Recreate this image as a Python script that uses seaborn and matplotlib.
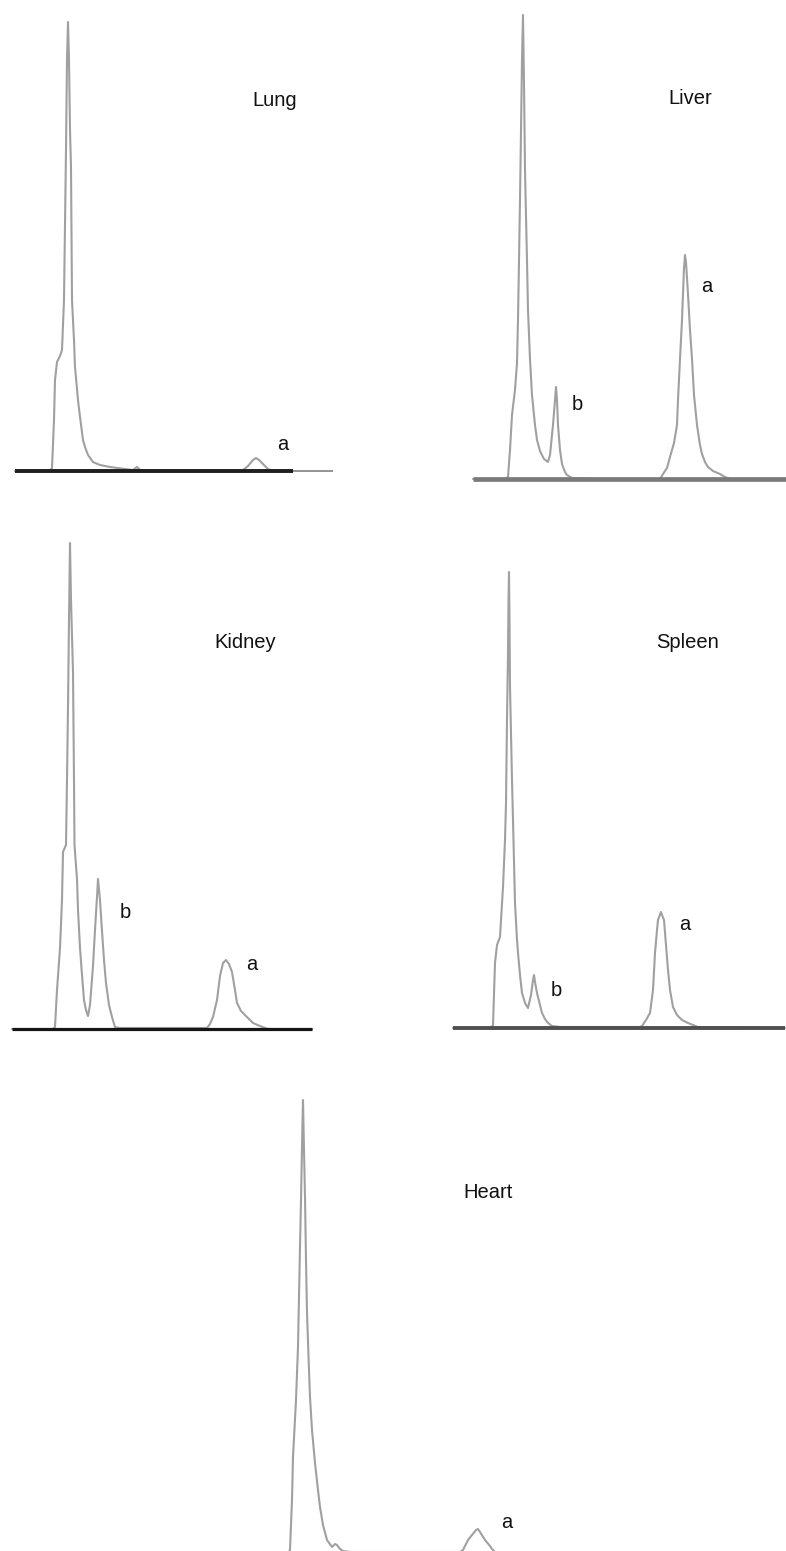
import matplotlib
matplotlib.use("Agg")
import matplotlib.pyplot as plt
import seaborn as sns
import pandas as pd

sns.set_theme(style="white")
plt.rcParams['font.family'] = ['Liberation Sans', 'DejaVu Sans']

# ---- data: chromatogram traces (retention position, detector signal) ----
LUNG_T = [0, 35, 37, 39, 40, 42, 45, 47, 49, 51, 52, 53, 54, 55, 56, 57, 59, 60, 63, 65, 68, 70, 73, 78, 85, 95, 110, 118, 122, 125, 145, 227, 233, 238, 241, 244, 249, 253, 258, 278]
LUNG_S = [0, 0, 3, 51, 91, 109, 115, 121, 171, 321, 411, 449, 411, 341, 304, 171, 131, 104, 71, 54, 31, 24, 16, 9, 6, 4, 2, 1, 4, 1, 0, 0, 5, 11, 13, 11, 6, 2, 0, 0]

LIVER_T = [0, 32, 35, 37, 39, 42, 44, 45, 46, 47, 48, 49, 50, 51, 52, 54, 55, 57, 59, 62, 64, 67, 71, 75, 77, 80, 82, 83, 84, 85, 87, 89, 92, 94, 99, 127, 187, 190, 194, 197, 201, 204, 205, 207, 209, 210, 211, 212, 213, 215, 217, 219, 221, 224, 227, 229, 232, 235, 240, 247, 252, 257, 313]
LIVER_S = [0, 0, 2, 29, 64, 89, 116, 159, 218, 279, 348, 419, 464, 397, 309, 218, 169, 120, 84, 54, 39, 28, 20, 17, 24, 54, 79, 92, 79, 54, 29, 15, 7, 4, 1, 0, 0, 5, 11, 22, 36, 54, 79, 120, 159, 185, 211, 224, 217, 185, 149, 120, 84, 54, 34, 25, 17, 12, 8, 5, 2, 0, 0]

KIDNEY_T = [0, 41, 43, 45, 48, 50, 51, 54, 55, 56, 57, 58, 59, 61, 62, 62.5, 65, 66, 68, 70, 72, 74, 76, 78, 81, 83, 85, 86, 88, 90, 92, 94, 97, 100, 103, 108, 135, 195, 198, 201, 205, 208, 211, 214, 217, 220, 223, 225, 229, 235, 241, 248, 256, 300]
KIDNEY_S = [0, 0, 2, 39, 81, 129, 177, 184, 249, 322, 409, 486, 429, 357, 249, 184, 150, 119, 81, 54, 29, 19, 13, 24, 63, 99, 132, 150, 129, 98, 69, 46, 24, 12, 2, 1, 1, 1, 5, 12, 29, 53, 66, 69, 65, 57, 39, 26, 18, 12, 6, 3, 0, 0]

SPLEEN_T = [0, 38, 40, 42, 44, 47, 50, 52, 53, 54, 55, 55.5, 56, 56.5, 57, 59, 60, 62, 64, 65, 67, 69, 72, 75, 78, 80, 81, 82, 84, 87, 89, 92, 95, 99, 107, 187, 189, 193, 197, 200, 202, 204, 205, 208, 209, 211, 213, 215, 217, 220, 224, 229, 235, 240, 245, 332]
SPLEEN_S = [0, 0, 3, 65, 83, 91, 141, 188, 225, 308, 375, 428, 456, 408, 341, 248, 208, 125, 88, 75, 53, 35, 25, 20, 33, 48, 53, 46, 35, 23, 15, 9, 5, 2, 1, 1, 2, 8, 15, 38, 75, 98, 108, 116, 113, 108, 83, 58, 38, 21, 13, 8, 5, 3, 1, 0]

HEART_T = [0, 28, 30, 32, 33, 36, 38, 40, 41, 42, 43, 44, 45, 46, 47, 49, 50, 52, 55, 58, 60, 63, 67, 72, 75, 77, 80, 83, 90, 200, 203, 208, 212, 216, 218, 220, 225, 230, 232, 235, 260]
HEART_S = [0, 0, 3, 53, 96, 153, 206, 306, 353, 406, 453, 403, 356, 293, 240, 183, 156, 123, 90, 63, 46, 28, 13, 6, 9, 8, 4, 2, 1, 1, 3, 13, 18, 23, 24, 21, 13, 7, 4, 1, 0]

TISSUES = ["Lung", "Liver", "Kidney", "Spleen", "Heart"]
PEAK_LABELS = {
    "Lung": [("a", 268, 26)],
    "Liver": [("a", 234, 193), ("b", 104, 74)],
    "Kidney": [("b", 113, 117), ("a", 240, 65)],
    "Spleen": [("a", 232, 103), ("b", 103, 38)],
    "Heart": [("a", 247, 30)],
}
TITLE_POS = {"Lung": (260, 371), "Liver": (217, 381), "Kidney": (233, 386),
             "Spleen": (235, 385), "Heart": (228, 360)}

traces = {"Lung": (LUNG_T, LUNG_S), "Liver": (LIVER_T, LIVER_S),
          "Kidney": (KIDNEY_T, KIDNEY_S), "Spleen": (SPLEEN_T, SPLEEN_S),
          "Heart": (HEART_T, HEART_S)}

# layout (figure pixels): left, baseline, width, height
FW, FH = 786, 1551
layout = {
    "Lung": (15, 471, 318, 460),
    "Liver": (473, 479, 313, 470),
    "Kidney": (12, 1029, 300, 500),
    "Spleen": (453, 1028, 332, 470),
    "Heart": (260, 1553, 330, 470),
}
baseline_style = {
    "Lung": [(0, 278, "#1e1e1e", 2.8), (278, 318, "#8a8a8a", 1.3)],
    "Liver": [(0, 313, "#7a7a7a", 3.4)],
    "Kidney": [(0, 300, "#151515", 2.3)],
    "Spleen": [(0, 332, "#505050", 2.8)],
    "Heart": [(0, 330, "#505050", 2.0)],
}

fig = plt.figure(figsize=(FW / 100, FH / 100), dpi=100)
fig.patch.set_facecolor("white")

for name in TISSUES:
    L, B, W, H = layout[name]
    ax = fig.add_axes([L / FW, (FH - B) / FH, W / FW, H / FH])
    ax.set_xlim(0, W)
    ax.set_ylim(0, H)
    ax.axis("off")
    t, s = traces[name]
    df = pd.DataFrame({"t": t, "s": s})
    sns.lineplot(data=df, x="t", y="s", ax=ax, color="#a0a0a0", lw=1.5,
                 sort=False, estimator=None, clip_on=False, zorder=1)
    for x0, x1, col, lw in baseline_style[name]:
        ax.plot([x0, x1], [0, 0], color=col, lw=lw, solid_capstyle="butt", clip_on=False, zorder=3)
    tx, ty = TITLE_POS[name]
    ax.text(tx, ty, name, ha="center", va="center", fontsize=14.5, color="#111111")
    for lab, lx, ly in PEAK_LABELS[name]:
        ax.text(lx, ly, lab, ha="center", va="center", fontsize=14.5, color="#111111")

fig.savefig("out.png", dpi=100, facecolor="white")
